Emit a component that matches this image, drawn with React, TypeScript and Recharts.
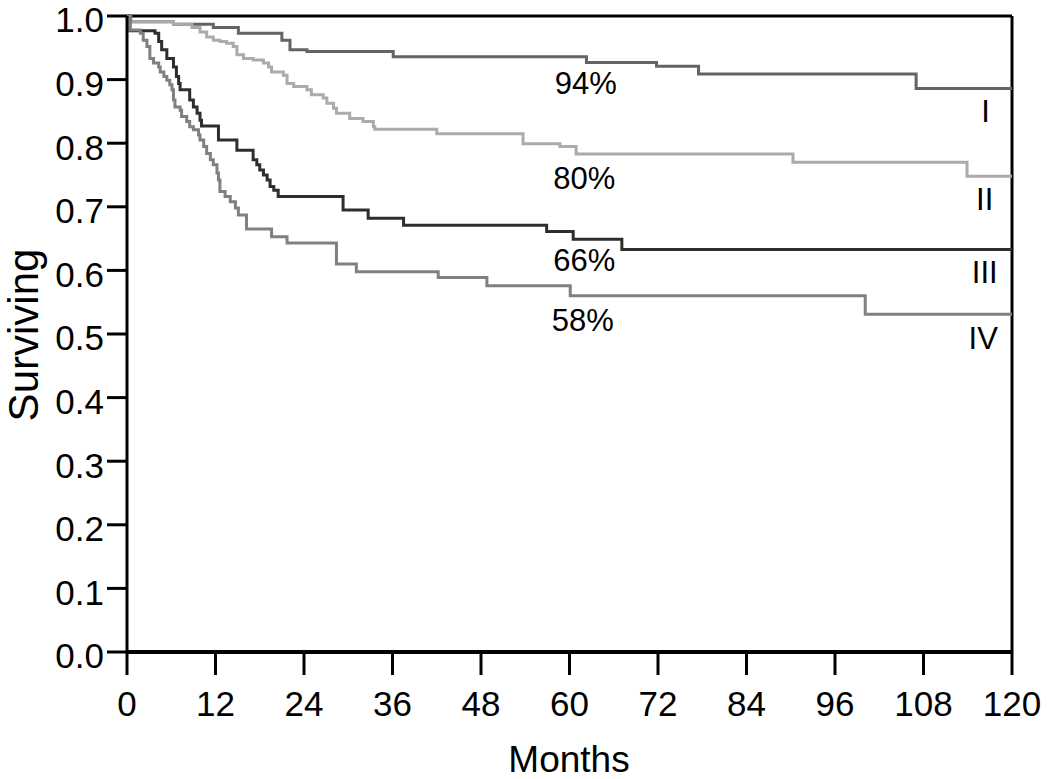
import { LineChart, Line, XAxis, YAxis, ReferenceLine, ReferenceDot } from 'recharts';

// Kaplan-Meier survival by stage, months vs proportion surviving
const monthTicks = [0, 12, 24, 36, 48, 60, 72, 84, 96, 108, 120];
const survTicks = [0, 0.1, 0.2, 0.3, 0.4, 0.5, 0.6, 0.7, 0.8, 0.9, 1.0];

const stageIMonths = [0, 0.5, 6.3, 11.7, 15.1, 21.0, 22.1, 24.4, 36.1, 62.3, 71.8, 77.5, 107, 120];
const stageISurv = [1, 0.991, 0.987, 0.982, 0.973, 0.962, 0.947, 0.944, 0.936, 0.927, 0.921, 0.909, 0.886, 0.886];

const stageIIMonths = [0, 0.5, 6.3, 8.8, 9.9, 10.8, 11.7, 12.6, 13.5, 14.4, 14.9, 15.8, 17.1, 18.5, 19.2, 19.6, 21.2, 21.7, 22.6, 24.4, 25.0, 26.6, 27.1, 28.0, 28.4, 30.2, 32.0, 33.4, 33.6, 42.0, 53.7, 58.7, 60.9, 90.3, 113.9, 120];
const stageIISurv = [1, 0.991, 0.987, 0.982, 0.975, 0.967, 0.962, 0.96, 0.957, 0.952, 0.939, 0.933, 0.931, 0.926, 0.92, 0.912, 0.907, 0.894, 0.889, 0.884, 0.876, 0.871, 0.863, 0.855, 0.847, 0.839, 0.834, 0.826, 0.822, 0.815, 0.799, 0.795, 0.783, 0.77, 0.748, 0.748];

const stageIIIMonths = [0, 0.4, 3.8, 4.3, 4.7, 5.4, 6.3, 6.7, 7.0, 7.2, 8.5, 9.0, 9.5, 9.9, 10.1, 12.4, 14.9, 17.1, 17.6, 18.0, 18.5, 19.0, 19.4, 19.9, 20.5, 29.3, 32.7, 37.5, 56.9, 60.5, 67.1, 120];
const stageIIISurv = [1, 0.977, 0.973, 0.96, 0.947, 0.933, 0.92, 0.905, 0.894, 0.884, 0.868, 0.857, 0.847, 0.836, 0.827, 0.805, 0.789, 0.774, 0.766, 0.758, 0.75, 0.742, 0.732, 0.726, 0.716, 0.695, 0.682, 0.671, 0.661, 0.649, 0.633, 0.633];

const stageIVMonths = [0, 0.4, 1.8, 2.2, 2.7, 3.1, 3.6, 4.3, 4.5, 5.0, 5.4, 5.8, 6.1, 6.3, 6.5, 7.2, 7.4, 8.1, 8.5, 9.0, 9.7, 9.9, 10.4, 10.8, 11.3, 11.7, 12.2, 12.4, 12.6, 13.3, 14.0, 14.7, 15.1, 16.2, 19.6, 21.7, 28.4, 31.1, 42.2, 48.8, 60.1, 100.1, 120];
const stageIVSurv = [1, 0.978, 0.973, 0.962, 0.952, 0.933, 0.926, 0.92, 0.912, 0.905, 0.899, 0.892, 0.884, 0.868, 0.857, 0.852, 0.842, 0.834, 0.826, 0.821, 0.813, 0.805, 0.795, 0.784, 0.774, 0.766, 0.753, 0.742, 0.724, 0.716, 0.708, 0.698, 0.687, 0.665, 0.653, 0.643, 0.61, 0.598, 0.589, 0.576, 0.56, 0.531, 0.531];

// annotations: [month, survival, text]
const percentLabels: [number, number, string][] = [
  [62.2, 0.895, '94%'],
  [62.0, 0.745, '80%'],
  [62.0, 0.616, '66%'],
  [61.8, 0.522, '58%'],
];
const stageLabels: [number, number, string][] = [
  [116.4, 0.851, 'I'],
  [116.3, 0.712, 'II'],
  [116.3, 0.598, 'III'],
  [116.1, 0.493, 'IV'],
];

const toPoints = (months: number[], surv: number[]) => months.map((m, i) => ({ m, s: surv[i] }));

const series = [
  { name: 'I', data: toPoints(stageIMonths, stageISurv), color: '#646464' },
  { name: 'II', data: toPoints(stageIIMonths, stageIISurv), color: '#ababab' },
  { name: 'III', data: toPoints(stageIIIMonths, stageIIISurv), color: '#2e2e2e' },
  { name: 'IV', data: toPoints(stageIVMonths, stageIVSurv), color: '#808080' },
];

const FONT = '"Liberation Sans", Arial, sans-serif';

export default function App() {
  return (
    <div style={{ position: 'absolute', left: 0, top: 0, background: '#fff' }}>
      <LineChart width={1050} height={779} margin={{ top: 16, right: 38, bottom: 0, left: 0 }}>
        <XAxis
          type="number"
          dataKey="m"
          domain={[0, 120]}
          ticks={monthTicks}
          interval={0}
          height={127}
          tickSize={23}
          tickMargin={16}
          axisLine={{ stroke: '#000', strokeWidth: 4 }}
          tickLine={{ stroke: '#000', strokeWidth: 3 }}
          tick={{ fill: '#000', fontSize: 35, fontFamily: FONT }}
          label={{
            content: () => (
              <text x={569} y={772} textAnchor="middle" fill="#000" fontSize={37} fontFamily={FONT}>
                Months
              </text>
            ),
          }}
        />
        <YAxis
          type="number"
          domain={[0, 1]}
          ticks={survTicks}
          interval={0}
          width={127}
          tickSize={20}
          tickMargin={3}
          tickFormatter={(v: number) => v.toFixed(1)}
          axisLine={{ stroke: '#000', strokeWidth: 3 }}
          tickLine={{ stroke: '#000', strokeWidth: 3 }}
          tick={{ fill: '#000', fontSize: 35, fontFamily: FONT, dy: 4 }}
          label={{
            content: () => (
              <text x={38} y={335} transform="rotate(-90 38 335)" textAnchor="middle" fill="#000" fontSize={42} fontFamily={FONT}>
                Surviving
              </text>
            ),
          }}
        />
        <ReferenceLine y={1} stroke="#000" strokeWidth={3} />
        <ReferenceLine x={120} stroke="#000" strokeWidth={3} />
        {series.map((s) => (
          <Line
            key={s.name}
            data={s.data}
            dataKey="s"
            type="stepAfter"
            stroke={s.color}
            strokeWidth={3}
            dot={false}
            activeDot={false}
            isAnimationActive={false}
          />
        ))}
        {percentLabels.map(([m, s, t]) => (
          <ReferenceDot
            key={t}
            x={m}
            y={s}
            r={0}
            stroke="none"
            label={{ value: t, position: 'center', fill: '#000', fontSize: 31, fontFamily: FONT }}
          />
        ))}
        {stageLabels.map(([m, s, t]) => (
          <ReferenceDot
            key={t}
            x={m}
            y={s}
            r={0}
            stroke="none"
            label={{ value: t, position: 'center', fill: '#000', fontSize: 31, fontFamily: FONT }}
          />
        ))}
      </LineChart>
    </div>
  );
}
